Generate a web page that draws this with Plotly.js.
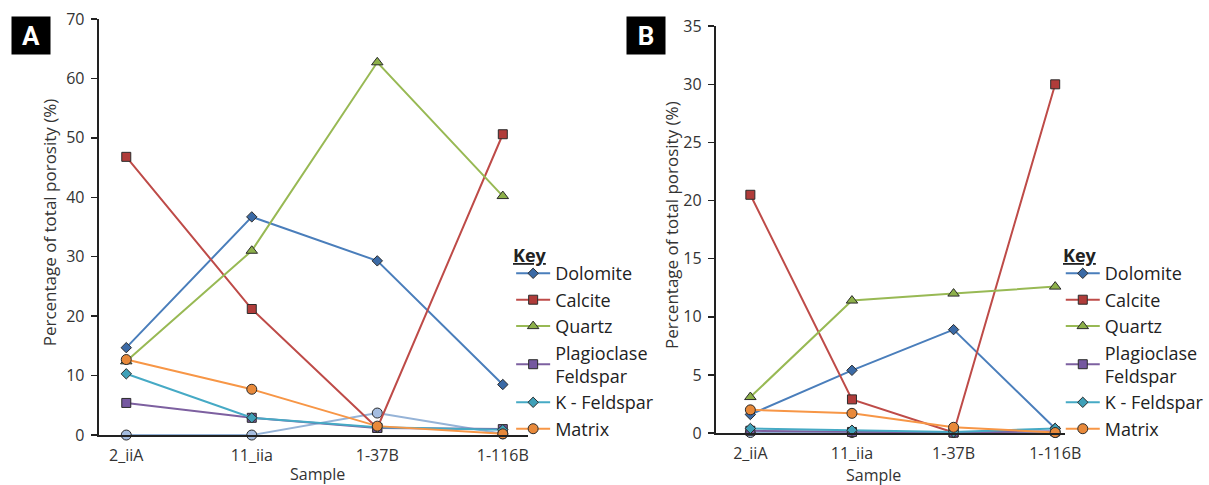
<!DOCTYPE html>
<html>
<head>
<meta charset="utf-8">
<script src="https://cdn.plot.ly/plotly-3.0.1.min.js"></script>
<style>html,body{margin:0;padding:0;background:#fff;}#chart{width:1209px;height:485px;}</style>
</head>
<body>
<div id="chart"></div>
<script>
const samples = ["2_iiA", "11_iia", "1-37B", "1-116B"];
const seriesNames = ["Dolomite", "Calcite", "Quartz", "Plagioclase<br>Feldspar", "K - Feldspar", "Matrix"];

// Panel A values (%)
const dolomiteA = [14.7, 36.7, 29.3, 8.5];
const calciteA = [46.8, 21.2, 1.2, 50.6];
const quartzA = [12.4, 31.0, 62.7, 40.2];
const plagioclaseA = [5.4, 2.9, 1.2, 1.0];
const kfeldsparA = [10.3, 2.9, 1.3, 0.9];
const matrixA = [12.7, 7.7, 1.5, 0.2];
const otherA = [0.0, 0.0, 3.7, 0.2];

// Panel B values (%)
const dolomiteB = [1.6, 5.4, 8.9, 0.4];
const calciteB = [20.5, 2.9, 0.05, 30.0];
const quartzB = [3.1, 11.4, 12.0, 12.6];
const plagioclaseB = [0.2, 0.1, 0.05, 0.15];
const kfeldsparB = [0.4, 0.25, 0.1, 0.4];
const matrixB = [2.0, 1.7, 0.5, 0.05];
const otherB = [0.05, 0.05, 0.05, 0.05];

const styles = [
  {line: "#4a7ebb", marker: "#3b6aa6", symbol: "diamond", size: 8},
  {line: "#be4b48", marker: "#b03c3a", symbol: "square", size: 9},
  {line: "#98b954", marker: "#8db04a", symbol: "triangle-up", size: 10},
  {line: "#7d60a0", marker: "#7558a0", symbol: "square", size: 9},
  {line: "#46aac5", marker: "#3fa0b8", symbol: "diamond", size: 8},
  {line: "#f79646", marker: "#e8893a", symbol: "circle", size: 10}
];
const otherStyle = {line: "#95b3d7", marker: "#a5bde0", symbol: "circle", size: 10};

function mk(y, i, xa, ya, leg, show) {
  const s = i < 0 ? otherStyle : styles[i];
  return {
    x: samples, y: y, type: "scatter", mode: "lines+markers",
    name: i < 0 ? "Other" : seriesNames[i],
    xaxis: xa, yaxis: ya, legend: leg, showlegend: show, cliponaxis: false,
    line: {color: s.line, width: 2},
    marker: {symbol: s.symbol, size: s.size, color: s.marker, line: {color: "#2b2b2b", width: 1}}
  };
}

const A = [dolomiteA, calciteA, quartzA, plagioclaseA, kfeldsparA, matrixA];
const B = [dolomiteB, calciteB, quartzB, plagioclaseB, kfeldsparB, matrixB];
const traces = [];
traces.push(mk(otherA, -1, "x", "y", "legend", false));
A.forEach((v, i) => traces.push(mk(v, i, "x", "y", "legend", true)));
traces.push(mk(otherB, -1, "x2", "y2", "legend2", false));
B.forEach((v, i) => traces.push(mk(v, i, "x2", "y2", "legend2", true)));

const fam = "Open Sans, DejaVu Sans, sans-serif";
const font = {family: fam, color: "#333", size: 16};
const axBase = {showgrid: false, zeroline: false, showline: true, linecolor: "#222", linewidth: 2,
  ticks: "outside", ticklen: 6, tickwidth: 1.5, tickcolor: "#222", tickfont: {size: 16, color: "#333"}, fixedrange: true};

const legBase = {
  font: {size: 18, color: "#222", family: fam},
  bgcolor: "rgba(0,0,0,0)", xanchor: "left", yanchor: "top", itemwidth: 34, tracegroupgap: 0
};

const layout = {
  width: 1209, height: 485,
  margin: {l: 0, r: 0, t: 0, b: 0},
  paper_bgcolor: "#fff", plot_bgcolor: "#fff",
  font: font,
  xaxis: Object.assign({}, axBase, {domain: [0.0827, 0.4425], type: "category", range: [-0.22, 3.2], anchor: "y", ticks: "", ticklabelstandoff: 5}),
  yaxis: Object.assign({}, axBase, {domain: [0.103, 0.961], range: [0, 70], dtick: 10, anchor: "x", ticklabelstandoff: 3}),
  xaxis2: Object.assign({}, axBase, {domain: [0.6, 0.893], type: "category", range: [-0.34, 3.1], anchor: "y2", ticks: "", ticklabelstandoff: 5}),
  yaxis2: Object.assign({}, axBase, {domain: [0.107, 0.946], range: [0, 35], dtick: 5, anchor: "x2", ticklabelstandoff: 3}),
  legend: Object.assign({}, legBase, {x: 518/1209, y: 0.474}),
  legend2: Object.assign({}, legBase, {x: 1075/1209, y: 0.474}),
  annotations: [
    {text: "<b><u>Key</u></b>", xref: "paper", yref: "paper", x: 518/1209, y: (485-255)/485, xanchor: "left", yanchor: "middle", showarrow: false, font: {size: 18, color: "#222"}},
    {text: "<b><u>Key</u></b>", xref: "paper", yref: "paper", x: 1075/1209, y: (485-255)/485, xanchor: "left", yanchor: "middle", showarrow: false, font: {size: 18, color: "#222"}},
    {text: "Percentage of total porosity (%)", textangle: -90, xref: "paper", yref: "paper", x: 50/1209, y: (485-222)/485, xanchor: "center", yanchor: "middle", showarrow: false, font: {size: 17, color: "#333"}},
    {text: "Percentage of total porosity (%)", textangle: -90, xref: "paper", yref: "paper", x: 680/1209, y: (485-225)/485, xanchor: "center", yanchor: "middle", showarrow: false, font: {size: 17, color: "#333"}},
    {text: "Sample", xref: "paper", yref: "paper", x: 322/1209, y: (485-474)/485, xanchor: "center", yanchor: "middle", showarrow: false, font: {size: 16, color: "#333"}},
    {text: "Sample", xref: "paper", yref: "paper", x: 885/1209, y: (485-475)/485, xanchor: "center", yanchor: "middle", showarrow: false, font: {size: 16, color: "#333"}},
    {text: "<b>A</b>", xref: "paper", yref: "paper", x: 31/1209, y: (485-35.5)/485, xanchor: "center", yanchor: "middle", showarrow: false, bgcolor: "#000", width: 36, height: 35, font: {size: 26, color: "#fff", family: "Liberation Sans Narrow, Roboto, sans-serif"}},
    {text: "<b>B</b>", xref: "paper", yref: "paper", x: 655/1209, y: (485-35.5)/485, xanchor: "center", yanchor: "middle", showarrow: false, bgcolor: "#000", width: 36, height: 35, font: {size: 26, color: "#fff", family: "Liberation Sans Narrow, Roboto, sans-serif"}}
  ]
};

Plotly.newPlot("chart", traces, layout, {displayModeBar: false, staticPlot: true});
</script>
</body>
</html>
